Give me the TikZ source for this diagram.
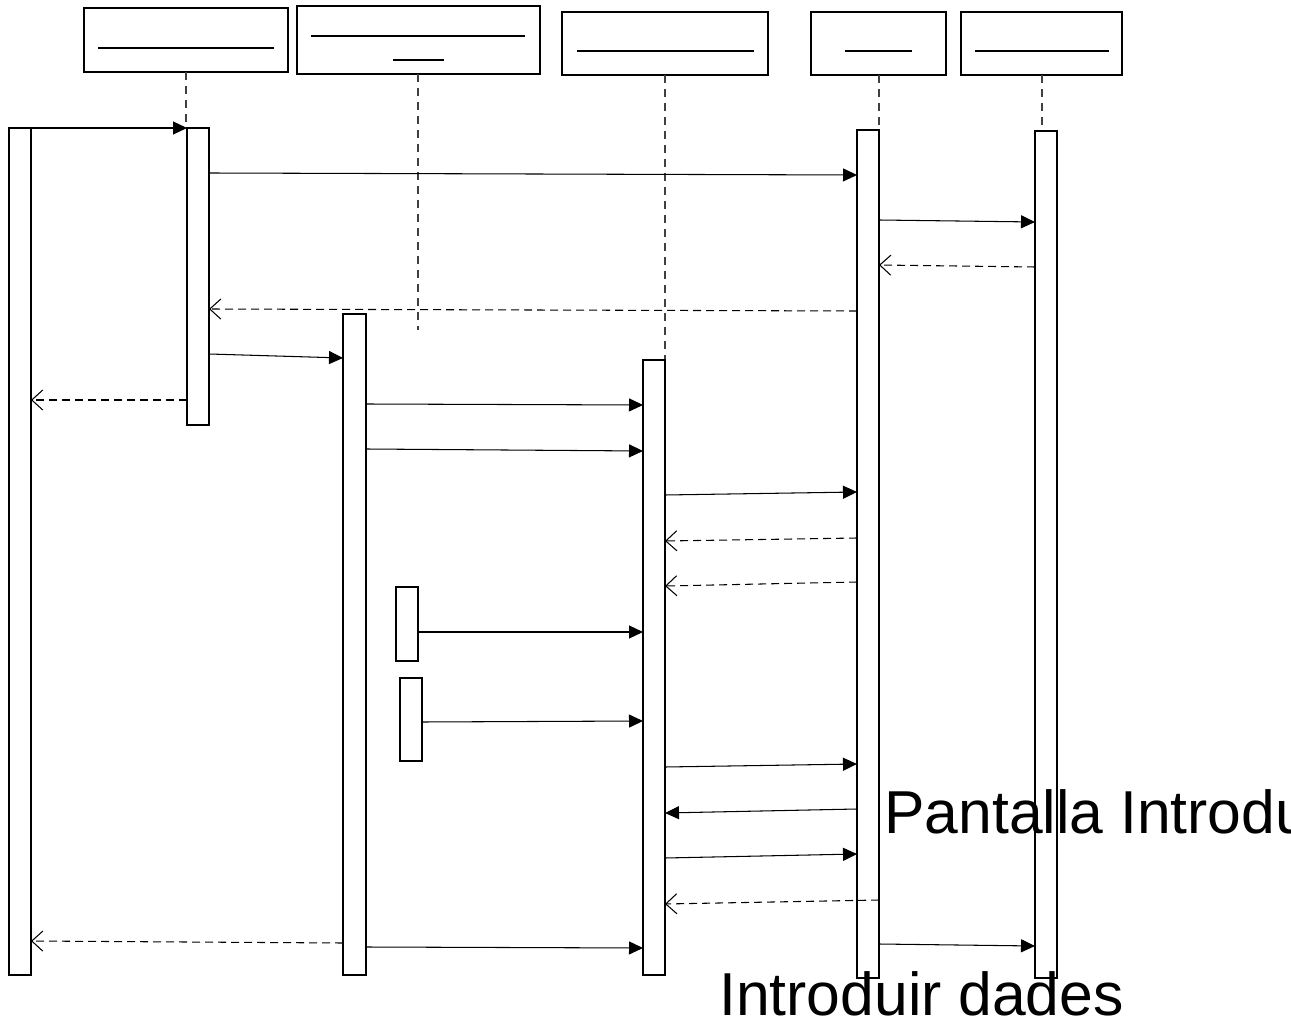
\documentclass[tikz,border=0pt]{standalone}
\usepackage{fontspec}
\setmainfont{Liberation Sans}
\usetikzlibrary{arrows.meta}

\tikzset{
	bar/.style={draw, fill=white, line width=0.6pt},
	header/.style={draw, line width=0.6pt},
	lifeline/.style={draw=black!75, line width=0.6pt, dash pattern=on 0.16cm off 0.12cm},
	call/.style={-{Triangle[length=0.28cm, width=0.26cm]}, line width=0.6pt},
	reply/.style={-{Straight Barb[length=0.22cm, width=0.4cm]}, line width=0.6pt, dash pattern=on 0.16cm off 0.1cm},
	bigtext/.style={font=\fontsize{34.5}{40}\selectfont, inner sep=0pt, anchor=base west}
}

\begin{document}
\begin{tikzpicture}[x=0.02cm, y=-0.02cm]
		\clip (0, 0) rectangle (1291, 1023);
		\filldraw[white] (0, 0) rectangle (1291, 1023);

		% object headers
		\draw[header] (84, 8) rectangle (288, 72);
		\draw[header] (98, 48) -- (274, 48);

		\draw[header] (297, 6) rectangle (540, 74);
		\draw[header] (311, 36) -- (525, 36);
		\draw[header] (393, 60) -- (444, 60);

		\draw[header] (562, 12) rectangle (768, 75);
		\draw[header] (577, 51) -- (754, 51);

		\draw[header] (811, 12) rectangle (946, 75);
		\draw[header] (845, 51) -- (912, 51);

		\draw[header] (961, 12) rectangle (1122, 75);
		\draw[header] (975, 51) -- (1109, 51);

		% lifelines
		\draw[lifeline] (186, 72) -- (186, 128);
		\draw[lifeline] (418, 74) -- (418, 330);
		\draw[lifeline] (665, 75) -- (665, 360);
		\draw[lifeline] (879, 75) -- (879, 130);
		\draw[lifeline] (1042, 75) -- (1042, 134);

		% activation bars
		\draw[bar] (9, 128) rectangle (31, 975);
		\draw[bar] (187, 128) rectangle (209, 425);
		\draw[bar] (343, 314) rectangle (366, 975);
		\draw[bar] (643, 360) rectangle (665, 975);
		\draw[bar] (857, 130) rectangle (879, 978);
		\draw[bar] (1035, 131) rectangle (1057, 978);
		\draw[bar] (396, 587) rectangle (418, 661);
		\draw[bar] (400, 678) rectangle (422, 761);

		% messages
		\coordinate (S1) at (31, 128);
		\coordinate (E1) at (187, 128);

		\coordinate (S2) at (209, 173);
		\coordinate (E2) at (857, 175);

		\coordinate (S3) at (879, 220);
		\coordinate (E3) at (1035, 222);

		\coordinate (S4) at (1035, 267);
		\coordinate (E4) at (879, 265);

		\coordinate (S5) at (857, 311);
		\coordinate (E5) at (209, 309);

		\coordinate (S6) at (209, 354);
		\coordinate (E6) at (343, 358);

		\coordinate (S7) at (187, 400);
		\coordinate (E7) at (31, 400);

		\coordinate (S8) at (366, 404);
		\coordinate (E8) at (643, 405);

		\coordinate (S9) at (366, 449);
		\coordinate (E9) at (643, 451);

		\coordinate (S10) at (665, 495);
		\coordinate (E10) at (857, 492);

		\coordinate (S11) at (857, 538);
		\coordinate (E11) at (665, 541);

		\coordinate (S12) at (857, 582);
		\coordinate (E12) at (665, 586);

		\coordinate (S13) at (418, 632);
		\coordinate (E13) at (643, 632);

		\coordinate (S14) at (422, 722);
		\coordinate (E14) at (643, 721);

		\coordinate (S15) at (665, 767);
		\coordinate (E15) at (857, 764);

		\coordinate (S16) at (857, 809);
		\coordinate (E16) at (665, 813);

		\coordinate (S17) at (665, 858);
		\coordinate (E17) at (857, 854);

		\coordinate (S18) at (879, 900);
		\coordinate (E18) at (665, 904);

		\coordinate (S19) at (343, 943);
		\coordinate (E19) at (31, 941);

		\coordinate (S20) at (366, 947);
		\coordinate (E20) at (643, 948);

		\coordinate (S21) at (879, 944);
		\coordinate (E21) at (1035, 946);

		\draw[call] (S1) -- (E1);
		\draw[call] (S2) -- (E2);
		\draw[call] (S3) -- (E3);
		\draw[reply] (S4) -- (E4);
		\draw[reply] (S5) -- (E5);
		\draw[call] (S6) -- (E6);
		\draw[reply] (S7) -- (E7);
		\draw[call] (S8) -- (E8);
		\draw[call] (S9) -- (E9);
		\draw[call] (S10) -- (E10);
		\draw[reply] (S11) -- (E11);
		\draw[reply] (S12) -- (E12);
		\draw[call] (S13) -- (E13);
		\draw[call] (S14) -- (E14);
		\draw[call] (S15) -- (E15);
		\draw[call] (S16) -- (E16);
		\draw[call] (S17) -- (E17);
		\draw[reply] (S18) -- (E18);
		\draw[reply] (S19) -- (E19);
		\draw[call] (S20) -- (E20);
		\draw[call] (S21) -- (E21);

		% labels
		\node[bigtext] (pantalla) at (884, 833) {Pantalla Introdu};
		\node[bigtext] (introduir) at (719, 1015) {Introduir dades};
	\end{tikzpicture}
\end{document}
